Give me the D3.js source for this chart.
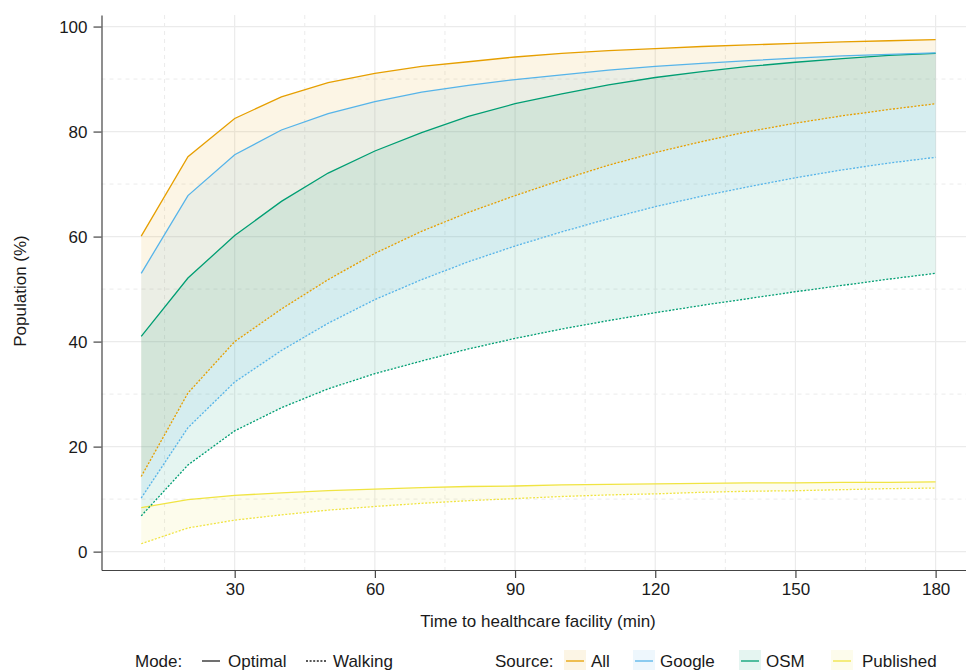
<!DOCTYPE html>
<html>
<head>
<meta charset="utf-8">
<script src="https://cdn.jsdelivr.net/npm/d3@7"></script>
<style>
  body { margin: 0; background: #fff; }
  svg { font-family: "Liberation Sans", Arial, Helvetica, sans-serif; }
</style>
</head>
<body>
<div class="canvas"></div>
<script>
// minutes to the nearest healthcare facility
const minutes = [10, 20, 30, 40, 50, 60, 70, 80, 90, 100, 110, 120, 130, 140, 150, 160, 170, 180]

// population covered (%), optimal travel mode
const allOptimal = [60.1, 75.2, 82.5, 86.6, 89.3, 91.1, 92.4, 93.3, 94.2, 94.9, 95.4, 95.8, 96.2, 96.5, 96.8, 97.1, 97.3, 97.5]
const googleOptimal = [53.0, 67.8, 75.6, 80.3, 83.4, 85.7, 87.5, 88.8, 89.9, 90.8, 91.7, 92.4, 93.0, 93.5, 94.0, 94.4, 94.7, 95.0]
const osmOptimal = [41.0, 52.1, 60.2, 66.7, 72.1, 76.3, 79.8, 82.9, 85.3, 87.2, 88.9, 90.3, 91.4, 92.4, 93.2, 93.9, 94.5, 94.9]
const publishedOptimal = [8.4, 9.9, 10.7, 11.2, 11.6, 11.9, 12.2, 12.4, 12.5, 12.7, 12.8, 12.9, 13.0, 13.1, 13.1, 13.2, 13.2, 13.3]

// population covered (%), walking
const allWalking = [14.3, 30.2, 40.0, 46.2, 51.8, 56.8, 61.0, 64.6, 67.8, 70.8, 73.6, 76.0, 78.1, 80.0, 81.6, 83.0, 84.2, 85.3]
const googleWalking = [10.2, 23.6, 32.3, 38.3, 43.5, 48.0, 51.8, 55.2, 58.2, 60.9, 63.4, 65.7, 67.7, 69.5, 71.2, 72.7, 74.0, 75.1]
const osmWalking = [6.8, 16.5, 23.0, 27.4, 31.0, 33.9, 36.3, 38.6, 40.6, 42.4, 44.0, 45.5, 46.9, 48.2, 49.5, 50.7, 51.9, 53.0]
const publishedWalking = [1.5, 4.5, 6.0, 7.0, 7.9, 8.6, 9.2, 9.7, 10.1, 10.5, 10.8, 11.0, 11.3, 11.5, 11.6, 11.8, 12.0, 12.1]

const sources = ["All", "Google", "OSM", "Published"]
const colours = ["#E69F00", "#56B4E9", "#009E73", "#F0E442"]

const xTicks = [30, 60, 90, 120, 150, 180]
const xMinor = [15, 45, 75, 105, 135, 165]
const yTicks = [0, 20, 40, 60, 80, 100]
const yMinor = [10, 30, 50, 70, 90]

const series = [
    { source: "All", optimal: allOptimal, walking: allWalking },
    { source: "Google", optimal: googleOptimal, walking: googleWalking },
    { source: "OSM", optimal: osmOptimal, walking: osmWalking },
    { source: "Published", optimal: publishedOptimal, walking: publishedWalking }
]

const width = 966
const height = 670
const panelLeft = 101.5
const panelTop = 15
const panelBottom = 570

const svg = d3.select(".canvas")
    .append("svg")
    .attr("width", width)
    .attr("height", height)

const x = d3.scaleLinear()
    .domain([1.5, 186.5])
    .range([panelLeft, width])

const y = d3.scaleLinear()
    .domain([-3.5, 102.2])
    .range([panelBottom, panelTop])

const colour = d3.scaleOrdinal()
    .domain(sources)
    .range(colours)

// grid
const grid = svg.append("g")
grid.selectAll(".ymin")
    .data(yMinor)
    .enter()
    .append("line")
    .attr("x1", panelLeft).attr("x2", width)
    .attr("y1", d => y(d)).attr("y2", d => y(d))
    .attr("stroke", "#ebebeb")
    .attr("stroke-dasharray", "4,4")
grid.selectAll(".xmin")
    .data(xMinor)
    .enter()
    .append("line")
    .attr("x1", d => x(d)).attr("x2", d => x(d))
    .attr("y1", panelTop).attr("y2", panelBottom)
    .attr("stroke", "#ebebeb")
    .attr("stroke-dasharray", "4,4")
grid.selectAll(".ymaj")
    .data(yTicks)
    .enter()
    .append("line")
    .attr("x1", panelLeft).attr("x2", width)
    .attr("y1", d => y(d)).attr("y2", d => y(d))
    .attr("stroke", "#ebebeb")
    .attr("stroke-width", 1.2)
grid.selectAll(".xmaj")
    .data(xTicks)
    .enter()
    .append("line")
    .attr("x1", d => x(d)).attr("x2", d => x(d))
    .attr("y1", panelTop).attr("y2", panelBottom)
    .attr("stroke", "#ebebeb")
    .attr("stroke-width", 1.2)

// ribbons between optimal and walking
const area = d3.area()
    .x((d, i) => x(minutes[i]))
    .y0(d => y(d[1]))
    .y1(d => y(d[0]))

const line = d3.line()
    .x((d, i) => x(minutes[i]))
    .y(d => y(d))

const plot = svg.append("g")

series.forEach(s => {
    plot.append("path")
        .datum(s.optimal.map((v, i) => [v, s.walking[i]]))
        .attr("d", area)
        .attr("fill", colour(s.source))
        .attr("fill-opacity", 0.1)
})

series.slice().reverse().forEach(s => {
    plot.append("path")
        .datum(s.walking)
        .attr("d", line)
        .attr("fill", "none")
        .attr("stroke", colour(s.source))
        .attr("stroke-width", 1.3)
        .attr("stroke-dasharray", "2,1.6")
    plot.append("path")
        .datum(s.optimal)
        .attr("d", line)
        .attr("fill", "none")
        .attr("stroke", colour(s.source))
        .attr("stroke-width", 1.3)
})

// axes
const xAxis = d3.axisBottom(x)
    .tickValues(xTicks)
    .tickSize(8)
    .tickSizeOuter(0)
    .tickPadding(5)
const yAxis = d3.axisLeft(y)
    .tickValues(yTicks)
    .tickSize(8)
    .tickSizeOuter(0)
    .tickPadding(6)

const xAxisGroup = svg.append("g")
    .attr("transform", `translate(0, ${panelBottom})`)
    .call(xAxis)
const yAxisGroup = svg.append("g")
    .attr("transform", `translate(${panelLeft}, 0)`)
    .call(yAxis)

svg.selectAll(".domain").attr("stroke", "#444").attr("stroke-width", 1.2)
svg.selectAll(".tick line").attr("stroke", "#444").attr("stroke-width", 1.2)
svg.selectAll(".tick text")
    .attr("font-size", 17)
    .attr("font-family", "Liberation Sans, Arial, sans-serif")
    .attr("fill", "#1a1a1a")

svg.append("text")
    .attr("x", 538)
    .attr("y", 627)
    .attr("text-anchor", "middle")
    .attr("font-size", 17)
    .attr("fill", "#1a1a1a")
    .text("Time to healthcare facility (min)")

svg.append("text")
    .attr("transform", `translate(26, 291) rotate(-90)`)
    .attr("text-anchor", "middle")
    .attr("font-size", 17)
    .attr("fill", "#1a1a1a")
    .text("Population (%)")

// legend
const legend = svg.append("g").attr("font-size", 17).attr("fill", "#1a1a1a")
const ly = 661

legend.append("text").attr("x", 135).attr("y", ly + 6).text("Mode:")
legend.append("line")
    .attr("x1", 202).attr("x2", 220).attr("y1", ly).attr("y2", ly)
    .attr("stroke", "#222").attr("stroke-width", 1.3)
legend.append("text").attr("x", 228).attr("y", ly + 6).text("Optimal")
legend.append("line")
    .attr("x1", 306).attr("x2", 326).attr("y1", ly).attr("y2", ly)
    .attr("stroke", "#222").attr("stroke-width", 1.3)
    .attr("stroke-dasharray", "2,1.6")
legend.append("text").attr("x", 333).attr("y", ly + 6).text("Walking")

legend.append("text").attr("x", 495).attr("y", ly + 6).text("Source:")
const keyX = [564, 633, 739, 831]
const labelX = [591, 660, 766, 862]
sources.forEach((s, i) => {
    legend.append("rect")
        .attr("x", keyX[i]).attr("y", ly - 11)
        .attr("width", 22).attr("height", 22)
        .attr("fill", colour(s)).attr("fill-opacity", 0.1)
    legend.append("line")
        .attr("x1", keyX[i] + 2).attr("x2", keyX[i] + 20)
        .attr("y1", ly).attr("y2", ly)
        .attr("stroke", colour(s)).attr("stroke-width", 1.3)
    legend.append("text").attr("x", labelX[i]).attr("y", ly + 6).text(s)
})
</script>
</body>
</html>
